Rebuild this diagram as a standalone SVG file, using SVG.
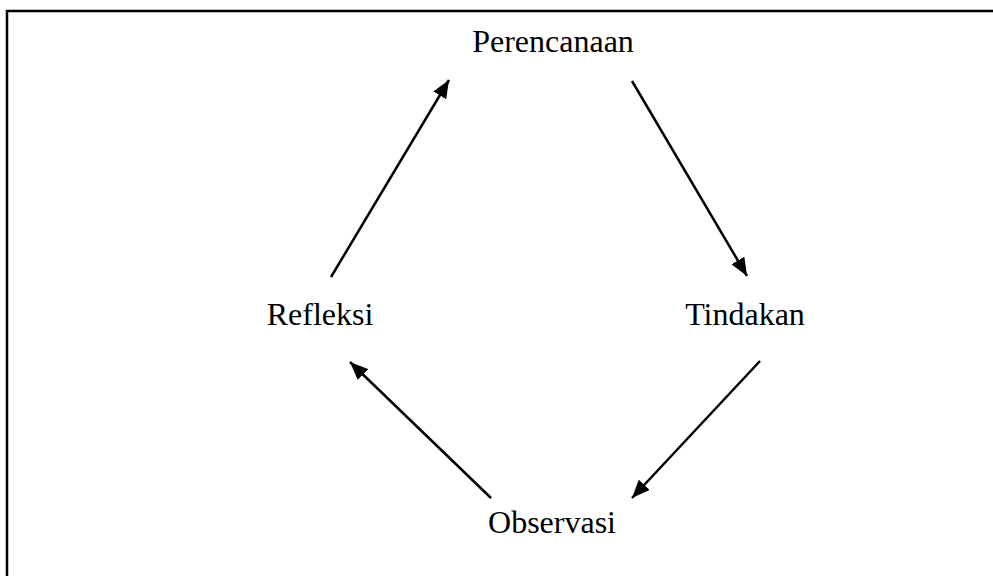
<svg xmlns="http://www.w3.org/2000/svg" width="993" height="576" viewBox="0 0 993 576">
<style>
text{font-family:"Liberation Serif","Times New Roman",serif;font-size:32px;fill:#000;text-anchor:middle}
.c line{stroke:#000;stroke-width:2.5;marker-end:url(#ah)}
</style>
<defs>
<marker id="ah" markerUnits="userSpaceOnUse" markerWidth="18" markerHeight="15" refX="18" refY="7.5" orient="auto">
<path d="M0,0 L18,7.5 L0,15 Z" fill="#000"/>
</marker>
</defs>
<rect width="993" height="576" fill="#fff"/>
<rect x="7" y="11" width="1000" height="600" fill="none" stroke="#000" stroke-width="2.5"/>
<g id="perencanaan"><text x="553" y="52">Perencanaan</text></g>
<g id="tindakan"><text x="745" y="325">Tindakan</text></g>
<g id="observasi"><text x="552" y="533">Observasi</text></g>
<g id="refleksi"><text x="320" y="325">Refleksi</text></g>
<g id="connectors" class="c">
<line x1="331" y1="277" x2="449" y2="80"/>
<line x1="632" y1="81" x2="747" y2="276"/>
<line x1="760" y1="361" x2="632" y2="498"/>
<line x1="491" y1="498" x2="350" y2="362"/>
</g>
</svg>
